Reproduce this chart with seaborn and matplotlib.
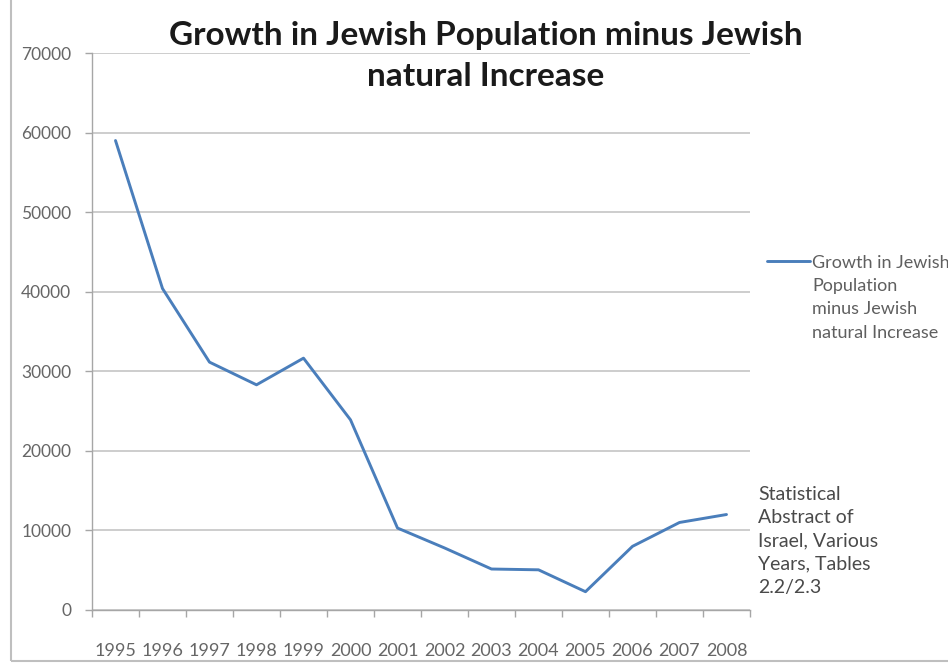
import matplotlib
matplotlib.use("Agg")
import matplotlib.pyplot as plt
import seaborn as sns
import pandas as pd
from matplotlib.patches import Rectangle

years = ["1995", "1996", "1997", "1998", "1999", "2000", "2001",
         "2002", "2003", "2004", "2005", "2006", "2007", "2008"]
growth = [59000, 40400, 31150, 28300, 31650, 23900, 10300,
          7800, 5150, 5050, 2300, 8000, 11000, 12000]
y_ticks = [0, 10000, 20000, 30000, 40000, 50000, 60000, 70000]

series_label = "Growth in Jewish\nPopulation\nminus Jewish\nnatural Increase"
title_text = "Growth in Jewish Population minus Jewish\nnatural Increase"
source_text = "Statistical\nAbstract of\nIsrael, Various\nYears, Tables\n2.2/2.3"

df = pd.DataFrame({"Year": years, "Value": growth})

sns.set_theme(style="white")
plt.rcParams["font.family"] = ["Lato", "DejaVu Sans"]

fig = plt.figure(figsize=(9.48, 6.66), dpi=100)
ax = fig.add_axes([92 / 948, 1 - 610 / 666, (750 - 92) / 948, (610 - 53) / 666])

line_color = "#4a7ebb"
sns.lineplot(data=df, x="Year", y="Value", ax=ax, color=line_color,
             linewidth=2.1, sort=False, label=series_label)

ax.set_xlim(-0.5, len(years) - 0.5)
ax.set_ylim(0, 70000)
ax.set_yticks(y_ticks)
ax.set_yticklabels([str(v) for v in y_ticks])
ax.set_xlabel("")
ax.set_ylabel("")

grid_c = "#c9c9c9"
ax.yaxis.grid(True, color=grid_c, linewidth=1.3)
ax.xaxis.grid(False)
ax.set_axisbelow(True)
for s in ["top", "right"]:
    ax.spines[s].set_visible(False)
for s in ["left", "bottom"]:
    ax.spines[s].set_visible(True)
    ax.spines[s].set_color("#a6a6a6")
    ax.spines[s].set_linewidth(1.0)

tick_c = "#666666"
ax.set_xticks(range(len(years)))
ax.set_xticks([i - 0.5 for i in range(len(years) + 1)], minor=True)
ax.tick_params(axis="x", which="major", length=0, pad=24, labelsize=13,
               labelcolor=tick_c)
ax.tick_params(axis="x", which="minor", length=5, color="#a6a6a6", width=1,
               direction="out", bottom=True)
ax.tick_params(axis="y", which="major", length=5, color="#a6a6a6", width=1,
               direction="out", left=True, labelsize=12.5, labelcolor=tick_c, pad=10)

leg = ax.legend(loc="upper left", bbox_to_anchor=(1.009, 0.657), frameon=False,
                fontsize=13, handlelength=2.4, handletextpad=0.1,
                labelcolor="#5f5f5f", borderaxespad=0.2, labelspacing=0)
for col in leg._legend_handle_box.get_children():
    for hp in col.get_children():
        hp.align = "top"
for t in leg.get_texts():
    t.set_linespacing(1.56)

fig.text(486 / 948, 1 - 56 / 666, title_text, ha="center", va="center",
         fontsize=24, fontweight="bold", color="#1a1a1a", linespacing=1.47)

fig.text(758 / 948, 1 - 541 / 666, source_text, ha="left", va="center",
         fontsize=14, color="#4a4a4a", linespacing=1.45)

fig.patches.append(Rectangle((11 / 948, 5 / 666), 1.2, 1.2, transform=fig.transFigure,
                             fill=False, edgecolor="#bfbfbf", linewidth=1.5))

fig.savefig("out.png", dpi=100, facecolor="white")
